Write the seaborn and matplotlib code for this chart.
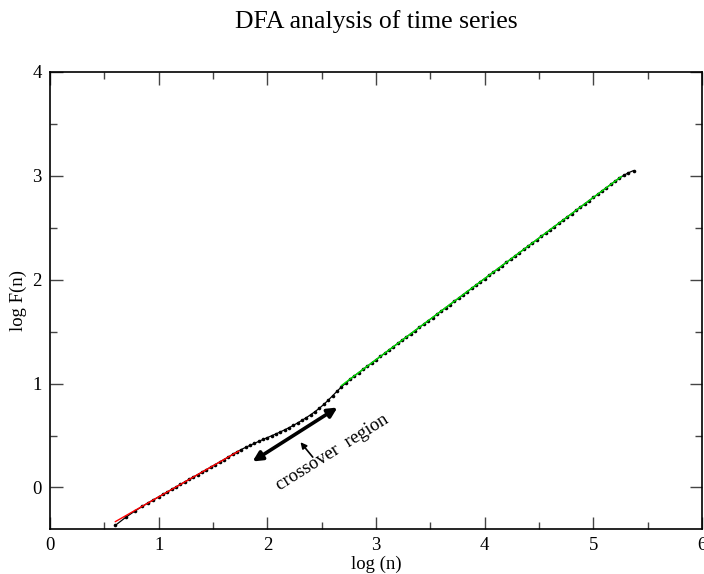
import matplotlib
matplotlib.use("Agg")
import matplotlib.pyplot as plt
import seaborn as sns
import pandas as pd
from matplotlib.ticker import MultipleLocator

# ---- data ----
log_n = [0.60, 0.70, 0.78, 0.85, 0.90, 0.95, 1.00, 1.04, 1.08, 1.12, 1.16, 1.20,
         1.24, 1.28, 1.32, 1.36, 1.40, 1.44, 1.48, 1.52, 1.56, 1.60, 1.64, 1.68,
         1.72, 1.76, 1.80, 1.84, 1.88, 1.92, 1.96, 2.00, 2.04, 2.08, 2.12, 2.16,
         2.20, 2.24, 2.28, 2.32, 2.36, 2.40, 2.44, 2.48, 2.52, 2.56, 2.60, 2.64,
         2.68, 2.72, 2.76, 2.80, 2.84, 2.88, 2.92, 2.96, 3.00, 3.04, 3.08, 3.12,
         3.16, 3.20, 3.24, 3.28, 3.32, 3.36, 3.40, 3.44, 3.48, 3.52, 3.56, 3.60,
         3.64, 3.68, 3.72, 3.76, 3.80, 3.84, 3.88, 3.92, 3.96, 4.00, 4.04, 4.08,
         4.12, 4.16, 4.20, 4.24, 4.28, 4.32, 4.36, 4.40, 4.44, 4.48, 4.52, 4.56,
         4.60, 4.64, 4.68, 4.72, 4.76, 4.80, 4.84, 4.88, 4.92, 4.96, 5.00, 5.04,
         5.08, 5.12, 5.16, 5.20, 5.24, 5.28, 5.32, 5.37]
log_F = [-0.366, -0.285, -0.228, -0.182, -0.150, -0.120, -0.091, -0.067, -0.043,
         -0.019, 0.005, 0.029, 0.053, 0.077, 0.101, 0.124, 0.148, 0.172, 0.196,
         0.220, 0.244, 0.268, 0.292, 0.318,
         0.343, 0.365, 0.386, 0.405, 0.424, 0.443, 0.462, 0.480, 0.498, 0.516,
         0.535, 0.555, 0.576, 0.598, 0.622, 0.647, 0.673, 0.701, 0.731, 0.764,
         0.800, 0.840, 0.882, 0.925, 0.966,
         1.004, 1.040, 1.073, 1.105, 1.136, 1.167, 1.199, 1.230, 1.261, 1.292,
         1.324, 1.355, 1.386, 1.417, 1.449, 1.480, 1.511, 1.542, 1.574, 1.605,
         1.636, 1.667, 1.699, 1.730, 1.761, 1.792, 1.823, 1.855, 1.886, 1.917,
         1.948, 1.980, 2.011, 2.042, 2.073, 2.105, 2.136, 2.167, 2.198, 2.230,
         2.261, 2.292, 2.323, 2.355, 2.386, 2.417, 2.448, 2.480, 2.511, 2.542,
         2.573, 2.605, 2.636, 2.667, 2.698, 2.730, 2.761, 2.792, 2.823, 2.855,
         2.886, 2.917, 2.948, 2.978, 3.005, 3.028, 3.051]

fit_short_x = [0.60, 1.74]
fit_short_y = [-0.33, 0.352]
fit_long_x = [2.68, 5.26]
fit_long_y = [0.98, 2.995]

title = "DFA analysis of time series"
xlabel = "log (n)"
ylabel = "log F(n)"
annotation = "crossover  region"
x_ticks = [0, 1, 2, 3, 4, 5, 6]
y_ticks = [0, 1, 2, 3, 4]

# ---- styling ----
sns.set_theme(style="ticks")
plt.rcParams["font.family"] = ["Liberation Serif", "DejaVu Serif"]
plt.rcParams["text.color"] = "black"
plt.rcParams["axes.labelcolor"] = "black"
plt.rcParams["xtick.color"] = "black"
plt.rcParams["ytick.color"] = "black"

fig = plt.figure(figsize=(7.04, 5.74), dpi=100)
ax = fig.add_axes([50 / 704, 1 - 529 / 574, (702 - 50) / 704, (529 - 72) / 574])

df = pd.DataFrame({"x": log_n, "y": log_F})
sns.lineplot(data=df, x="x", y="y", ax=ax, sort=False, estimator=None,
             color="black", linewidth=0.9, marker="o", markersize=2.6,
             markeredgewidth=0, zorder=2)
sns.lineplot(x=fit_short_x, y=fit_short_y, ax=ax, color="#ff0000",
             linewidth=1.0, sort=False, estimator=None, zorder=3)
sns.lineplot(x=fit_long_x, y=fit_long_y, ax=ax, color="#00e000",
             linewidth=1.0, sort=False, estimator=None, zorder=3)

ax.set_xlim(0, 6)
ax.set_ylim(-0.4, 4)
ax.set_xticks(x_ticks)
ax.set_yticks(y_ticks)
ax.xaxis.set_minor_locator(MultipleLocator(0.5))
ax.yaxis.set_minor_locator(MultipleLocator(0.5))
ax.tick_params(which="both", direction="in", top=True, right=True,
               color="#444444", width=1.0, labelsize=13.5, pad=6,
               labelcolor="black")
ax.tick_params(which="major", length=9)
ax.tick_params(which="minor", length=5)
for s in ax.spines.values():
    s.set_color("black")
    s.set_linewidth(1.2)

ax.set_xlabel(xlabel, fontsize=13.5, labelpad=1, color="black")
ax.set_ylabel(ylabel, fontsize=13.5, labelpad=4, color="black")
ax.set_title(title, fontsize=18.5, pad=32, color="black")

# annotations
ax.annotate("", xy=(1.864, 0.25), xytext=(2.645, 0.77),
            arrowprops=dict(arrowstyle="<|-|>", color="black", lw=2.6,
                            mutation_scale=14, shrinkA=0, shrinkB=0))
ax.annotate("", xy=(2.305, 0.436), xytext=(2.418, 0.292),
            arrowprops=dict(arrowstyle="-|>", color="black", lw=1.2,
                            mutation_scale=9, shrinkA=0, shrinkB=0))
ax.text(2.594, 0.332, annotation, rotation=32, rotation_mode="anchor",
        ha="center", va="center", fontsize=13.5, color="black")

ax.grid(False)
fig.savefig("out.png", dpi=100, facecolor="white")
